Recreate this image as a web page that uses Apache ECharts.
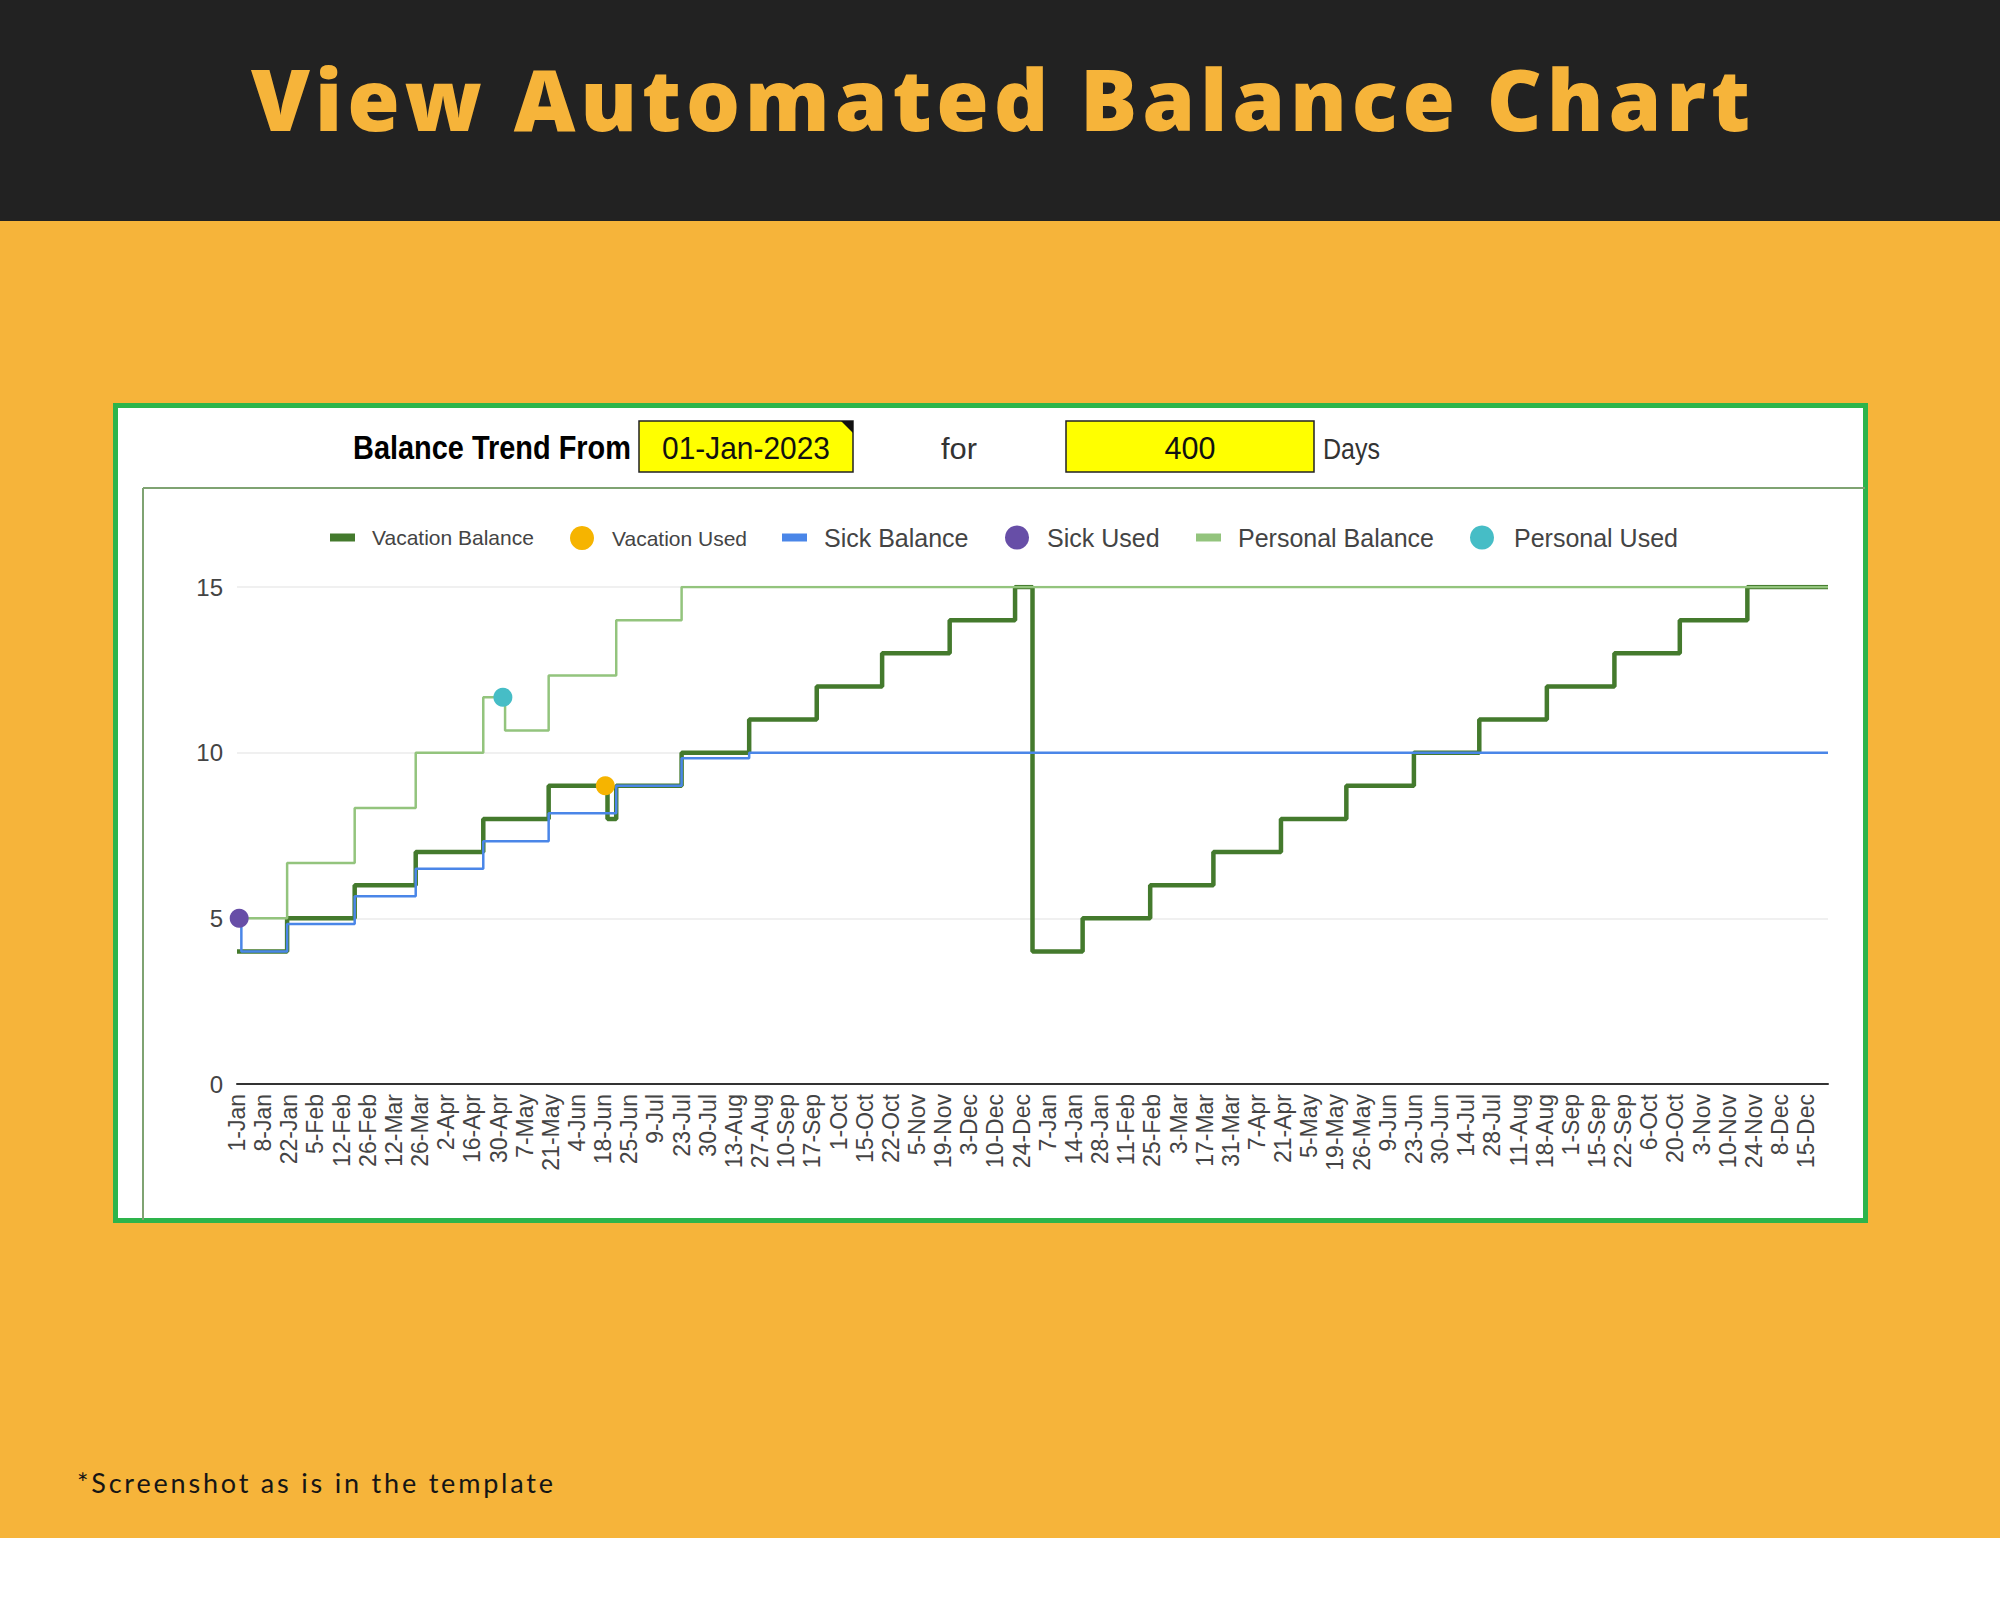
<!DOCTYPE html>
<html>
<head>
<meta charset="utf-8">
<script src="https://cdn.jsdelivr.net/npm/echarts@6/dist/echarts.min.js"></script>
<style>
  html, body { margin: 0; padding: 0; background: #ffffff; }
  #page { position: relative; width: 2000px; height: 1600px; overflow: hidden; }
  #deco { position: absolute; left: 0; top: 0; }
  #chart { position: absolute; left: 0; top: 0; width: 2000px; height: 1600px; z-index: 2; }
</style>
</head>
<body>
<div id="page">
  <svg id="deco" width="2000" height="1600" xmlns="http://www.w3.org/2000/svg">
    <rect x="0" y="0" width="2000" height="1538" fill="#F6B43A"/>
    <rect x="0" y="0" width="2000" height="221" fill="#222222"/>
    <text x="251" y="131" fill="#F6B43A" font-family="'Open Sans', Lato, sans-serif" font-weight="800" font-size="85" textLength="1499" lengthAdjust="spacing">View Automated Balance Chart</text>
    <rect x="115.5" y="405.5" width="1750" height="815" fill="#ffffff" stroke="#2DB44B" stroke-width="5"/>
    <line x1="143" y1="488" x2="1865" y2="488" stroke="#7FA372" stroke-width="2"/>
    <line x1="143" y1="488" x2="143" y2="1220" stroke="#7FA372" stroke-width="2"/>
    <text x="353" y="459" fill="#000" font-family="'Liberation Sans Narrow', 'Liberation Sans', Arial, sans-serif" font-weight="bold" font-size="33" textLength="278" lengthAdjust="spacingAndGlyphs">Balance Trend From</text>
    <rect x="639" y="421" width="214" height="51" fill="#FFFF00" stroke="#222" stroke-width="1.5"/>
    <polygon points="841,421 853,421 853,433" fill="#111"/>
    <text x="662" y="459" fill="#111" font-family="'Liberation Sans Narrow', 'Liberation Sans', Arial, sans-serif" font-size="32" textLength="168" lengthAdjust="spacingAndGlyphs">01-Jan-2023</text>
    <text x="941" y="459" fill="#333" font-family="'Liberation Sans Narrow', 'Liberation Sans', Arial, sans-serif" font-size="30" textLength="36" lengthAdjust="spacingAndGlyphs">for</text>
    <rect x="1066" y="421" width="248" height="51" fill="#FFFF00" stroke="#222" stroke-width="1.5"/>
    <text x="1190" y="459" text-anchor="middle" fill="#111" font-family="'Liberation Sans Narrow', 'Liberation Sans', Arial, sans-serif" font-size="32" textLength="51" lengthAdjust="spacingAndGlyphs">400</text>
    <text x="1323" y="459" fill="#333" font-family="'Liberation Sans Narrow', 'Liberation Sans', Arial, sans-serif" font-size="30" textLength="57" lengthAdjust="spacingAndGlyphs">Days</text>
    <text x="77" y="1493" fill="#151515" font-family="Lato, 'Open Sans', sans-serif" font-weight="400" font-size="27" textLength="476" lengthAdjust="spacing">*Screenshot as is in the template</text>
  </svg>
  <div id="chart"></div>
</div>
<script>
// ---------- data ----------
const startDate = '2023-01-01';
const dayCount = 731;   // daily rows, 1-Jan-2023 .. 31-Dec-2024

// x-axis labels shown every 12th row (week-of dates)
const tickLabels = [
  '1-Jan','8-Jan','22-Jan','5-Feb','12-Feb','26-Feb','12-Mar','26-Mar','2-Apr','16-Apr',
  '30-Apr','7-May','21-May','4-Jun','18-Jun','25-Jun','9-Jul','23-Jul','30-Jul','13-Aug',
  '27-Aug','10-Sep','17-Sep','1-Oct','15-Oct','22-Oct','5-Nov','19-Nov','3-Dec','10-Dec',
  '24-Dec','7-Jan','14-Jan','28-Jan','11-Feb','25-Feb','3-Mar','17-Mar','31-Mar','7-Apr',
  '21-Apr','5-May','19-May','26-May','9-Jun','23-Jun','30-Jun','14-Jul','28-Jul','11-Aug',
  '18-Aug','1-Sep','15-Sep','22-Sep','6-Oct','20-Oct','3-Nov','10-Nov','24-Nov','8-Dec',
  '15-Dec'
];
const labelEvery = 12;

// balance change points [date, value] (value holds until the next point)
const vacationBalance = [
  ['2023-01-01', 4], ['2023-01-24', 5], ['2023-02-24', 6], ['2023-03-24', 7],
  ['2023-04-24', 8], ['2023-05-24', 9], ['2023-06-20', 8], ['2023-06-24', 9],
  ['2023-07-24', 10], ['2023-08-24', 11], ['2023-09-24', 12], ['2023-10-24', 13],
  ['2023-11-24', 14], ['2023-12-24', 15], ['2024-01-01', 4], ['2024-01-24', 5],
  ['2024-02-24', 6], ['2024-03-24', 7], ['2024-04-24', 8], ['2024-05-24', 9],
  ['2024-06-24', 10], ['2024-07-24', 11], ['2024-08-24', 12], ['2024-09-24', 13],
  ['2024-10-24', 14], ['2024-11-24', 15], ['2024-12-31', 15]
];
const vacationUsed = [['2023-06-19', 9]];

const sickBalance = [
  ['2023-01-01', 5], ['2023-01-03', 4], ['2023-01-24', 4.83], ['2023-02-24', 5.67],
  ['2023-03-24', 6.5], ['2023-04-24', 7.33], ['2023-05-24', 8.17], ['2023-06-24', 9],
  ['2023-07-24', 9.83], ['2023-08-24', 10], ['2024-12-31', 10]
];
const sickUsed = [['2023-01-02', 5]];

const personalBalance = [
  ['2023-01-01', 5], ['2023-01-24', 6.67], ['2023-02-24', 8.33], ['2023-03-24', 10],
  ['2023-04-24', 11.67], ['2023-05-04', 10.67], ['2023-05-24', 12.33], ['2023-06-24', 14],
  ['2023-07-24', 15], ['2024-12-31', 15]
];
const personalUsed = [['2023-05-03', 11.67]];

// ---------- build ----------
const days = [];
{
  const p = startDate.split('-').map(Number);
  for (let i = 0; i < dayCount; i++) {
    days.push(new Date(Date.UTC(p[0], p[1] - 1, p[2] + i)).toISOString().slice(0, 10));
  }
}

const C = {
  vacB: '#447A2D', vacU: '#F6B400',
  sickB: '#4A86E8', sickU: '#674EA7',
  perB: '#93C47D', perU: '#46BDC6'
};
const FONT = "'Liberation Sans', Arial, sans-serif";

function lg(name, left, icon, w, h, fs, pad, top) {
  return {
    data: [name], left: left, top: top, orient: 'horizontal', padding: 0,
    icon: icon, itemWidth: w, itemHeight: h, selectedMode: false,
    textStyle: { fontFamily: FONT, fontSize: fs, color: '#444', padding: [0, 0, 0, pad] }
  };
}

const chart = echarts.init(document.getElementById('chart'), null, { renderer: 'svg', width: 2000, height: 1600 });
chart.setOption({
  animation: false,
  backgroundColor: 'transparent',
  legend: [
    lg('Vacation Balance', 330, 'rect', 25, 8, 21, 12, 527),
    lg('Vacation Used', 570, 'circle', 24, 24, 21, 13, 526),
    lg('Sick Balance', 782, 'rect', 25, 8, 25, 12, 525),
    lg('Sick Used', 1005, 'circle', 24, 24, 25, 13, 525),
    lg('Personal Balance', 1196, 'rect', 25, 8, 25, 12, 525),
    lg('Personal Used', 1470, 'circle', 24, 24, 25, 15, 525)
  ],
  grid: { left: 237, right: 172, top: 587, bottom: 516, containLabel: false },
  xAxis: {
    type: 'category', data: days, boundaryGap: false,
    axisLine: { lineStyle: { color: '#333', width: 2 } },
    axisTick: { show: false },
    splitLine: { show: false },
    axisLabel: {
      interval: labelEvery - 1, rotate: 90, margin: 10,
      fontFamily: FONT, fontSize: 23, color: '#444',
      formatter: function (v, i) { return tickLabels[Math.round(i / labelEvery)] || ''; }
    }
  },
  yAxis: {
    type: 'value', min: 0, max: 15, interval: 5,
    axisLine: { show: false }, axisTick: { show: false },
    axisLabel: { fontFamily: FONT, fontSize: 24, color: '#444', margin: 14 },
    splitLine: { lineStyle: { color: '#EBEBEB', width: 1.5 } }
  },
  series: [
    { name: 'Vacation Balance', type: 'line', step: 'end', data: vacationBalance, color: C.vacB,
      symbol: 'none', lineStyle: { color: C.vacB, width: 4.5 }, z: 2 },
    { name: 'Vacation Used', type: 'scatter', data: vacationUsed, color: C.vacU,
      symbolSize: 19, itemStyle: { color: C.vacU, opacity: 1 }, z: 5 },
    { name: 'Sick Balance', type: 'line', step: 'end', data: sickBalance, color: C.sickB,
      symbol: 'none', lineStyle: { color: C.sickB, width: 2.5 }, z: 3 },
    { name: 'Sick Used', type: 'scatter', data: sickUsed, color: C.sickU,
      symbolSize: 19, itemStyle: { color: C.sickU, opacity: 1 }, z: 5 },
    { name: 'Personal Balance', type: 'line', step: 'end', data: personalBalance, color: C.perB,
      symbol: 'none', lineStyle: { color: C.perB, width: 2.5 }, z: 4 },
    { name: 'Personal Used', type: 'scatter', data: personalUsed, color: C.perU,
      symbolSize: 19, itemStyle: { color: C.perU, opacity: 1 }, z: 5 }
  ]
});
</script>
</body>
</html>
